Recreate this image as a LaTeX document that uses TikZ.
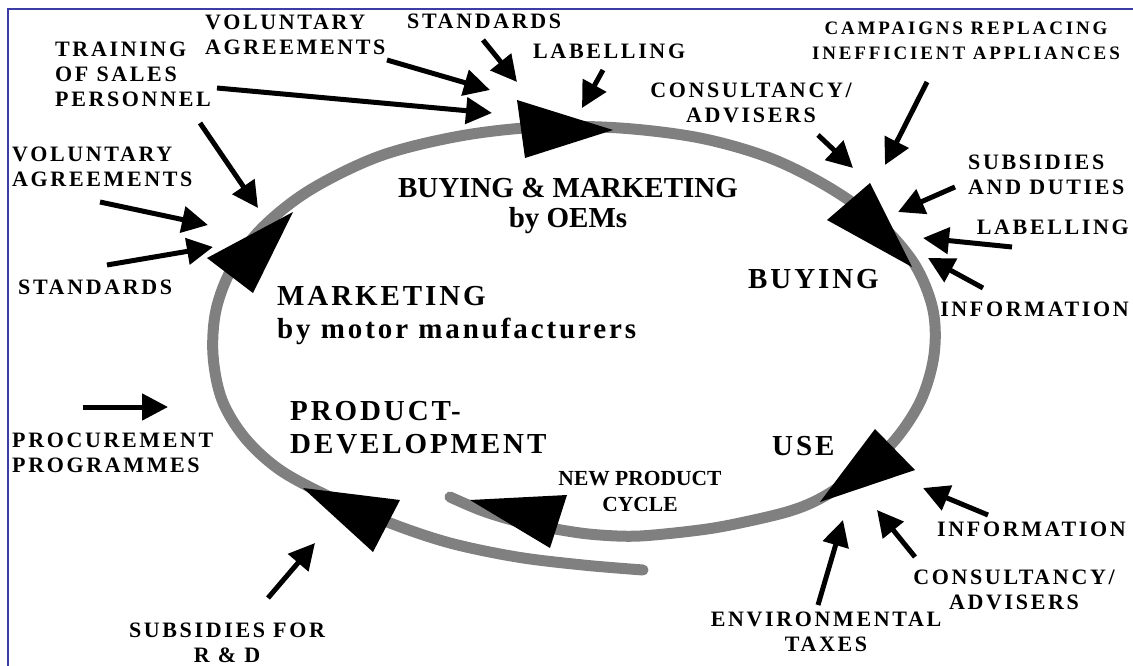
\documentclass[tikz,border=0pt]{standalone}
\usepackage{fontspec}
\setmainfont{Liberation Serif}
\newfontfamily\spacedfont[LetterSpace=12]{Liberation Serif}
\newfontfamily\campfont[LetterSpace=15]{Liberation Serif}
\newfontfamily\widefont[LetterSpace=10]{Liberation Serif}
\usepackage{tikz}
\usetikzlibrary{arrows.meta}

\definecolor{framecol}{RGB}{60,60,165}
\definecolor{cyclegrey}{RGB}{128,128,128}

\tikzset{
	small label/.style={font=\spacedfont\bfseries\fontsize{22}{25}\selectfont, inner sep=0pt},
	stage label/.style={font=\widefont\bfseries\fontsize{29}{33}\selectfont, inner sep=0pt},
	policy/.style={line width=5pt, -{Triangle[length=26pt,width=26pt]}},
	cycle line/.style={cyclegrey, line width=11pt, line cap=round, line join=round}
}

\begin{document}
\begin{tikzpicture}[x=1pt,y=-1pt]
			\useasboundingbox (0,0) rectangle (1133,666);

			\draw [framecol, line width=2pt] (8,667) -- (8,9) -- (1134,9);

			\draw [cycle line] plot [smooth, tension=0.55] coordinates {
				(643,570) (583,565) (517,557) (450,543) (390,523) (330,497) (280,470)
				(245,438) (222,400) (213,355) (216,310) (232,268) (262,228) (310,190)
				(380,156) (460,136) (540,127) (620,128) (700,138) (770,158) (830,188)
				(880,224) (915,265) (933,310) (934,355) (921,400) (895,440) (860,472)
				(823,497) (790,511) (740,523) (700,530) (640,536) (600,535) (567,531)
				(520,522) (483,511) (450,497)};

			\begin{scope}[black]
				\fill (207,258) -- (293,212) -- (253,293) -- cycle;
				\fill (517,100) -- (613,130) -- (525,158) -- cycle;
				\fill (870,183) -- (827,220) -- (912,267) -- cycle;
				\fill (875,429) -- (915,470) -- (820,502) -- cycle;
				\fill (470,500) -- (567,495) -- (550,548) -- cycle;
				\fill (303,488) -- (400,500) -- (373,552) -- cycle;
			\end{scope}

			\node [stage label, anchor=north west, align=left] (marketing) at (277,286) {MARKETING\\by motor manufacturers};
			\node [stage label, anchor=north west, align=left] (development) at (290,401) {PRODUCT-\\DEVELOPMENT};
			\node [stage label, anchor=north west] (buying) at (748,269) {BUYING};
			\node [stage label, anchor=north west] (use) at (772,436) {USE};
			\node [font=\bfseries\fontsize{29}{30}\selectfont, inner sep=0pt, anchor=north, align=center] (oems) at (568,178) {BUYING \& MARKETING\\by OEMs};
			\node [font=\bfseries\fontsize{21.5}{26}\selectfont, inner sep=0pt, anchor=north, align=center] (newcycle) at (640,471) {NEW PRODUCT\\CYCLE};

			\node [small label, anchor=north west, align=left] (volTop) at (205,15) {VOLUNTARY\\AGREEMENTS};
			\node [small label, anchor=north west, align=left] (training) at (55,42) {TRAINING\\OF SALES\\PERSONNEL};
			\node [small label, anchor=north west, align=left] (volLeft) at (12,147) {VOLUNTARY\\AGREEMENTS};
			\node [small label, anchor=north west] (stdLeft) at (18,280) {STANDARDS};
			\node [small label, anchor=north west] (stdTop) at (407,14) {STANDARDS};
			\node [small label, anchor=north west] (labTop) at (533,44) {LABELLING};
			\node [small label, anchor=north, align=center] (consTop) at (751,83) {CONSULTANCY/\\ADVISERS};
			\node [inner sep=0pt, font=\campfont\bfseries\fontsize{19}{25}\selectfont, anchor=north, align=center] (campaigns) at (966,22) {CAMPAIGNS REPLACING\\INEFFICIENT APPLIANCES};
			\node [small label, anchor=north west, align=left] (subsidies) at (968,155) {SUBSIDIES\\AND DUTIES};
			\node [small label, anchor=north east] (labRight) at (1129,220) {LABELLING};
			\node [small label, anchor=north east] (infoTop) at (1129,302) {INFORMATION};
			\node [small label, anchor=north west] (infoBot) at (937,522) {INFORMATION};
			\node [small label, anchor=north, align=center] (consBot) at (1014,570) {CONSULTANCY/\\ADVISERS};
			\node [small label, anchor=north, align=center] (envTax) at (826,612) {ENVIRONMENTAL\\TAXES};
			\node [small label, anchor=north west, align=left] (procure) at (12,433) {PROCUREMENT\\PROGRAMMES};
			\node [small label, anchor=north, align=center] (subsRD) at (227,623) {SUBSIDIES FOR\\R \& D};

			\coordinate (volTop from) at (387,60);     \coordinate (volTop to) at (490,90);
			\coordinate (trainA from) at (217,88);     \coordinate (trainA to) at (492,113);
			\coordinate (trainB from) at (200,123);    \coordinate (trainB to) at (258,208);
			\coordinate (volLeft from) at (100,202);   \coordinate (volLeft to) at (208,225);
			\coordinate (stdLeft from) at (107,265);   \coordinate (stdLeft to) at (213,247);
			\coordinate (stdTop from) at (483,40);     \coordinate (stdTop to) at (517,82);
			\coordinate (labTop from) at (603,70);     \coordinate (labTop to) at (582,108);
			\coordinate (campaigns from) at (927,82);  \coordinate (campaigns to) at (885,165);
			\coordinate (consTop from) at (818,135);   \coordinate (consTop to) at (853,168);
			\coordinate (subsidies from) at (955,187); \coordinate (subsidies to) at (898,212);
			\coordinate (labRight from) at (1012,247); \coordinate (labRight to) at (923,238);
			\coordinate (infoTop from) at (983,288);   \coordinate (infoTop to) at (928,258);
			\coordinate (infoBot from) at (988,515);   \coordinate (infoBot to) at (923,488);
			\coordinate (consBot from) at (915,557);   \coordinate (consBot to) at (877,510);
			\coordinate (envTax from) at (818,605);    \coordinate (envTax to) at (843,520);
			\coordinate (subsRD from) at (268,598);    \coordinate (subsRD to) at (315,543);
			\coordinate (procure from) at (83,407);    \coordinate (procure to) at (168,407);

			\begin{scope}
				\foreach \p in {volTop, trainA, trainB, volLeft, stdLeft, stdTop, labTop,
					campaigns, consTop, subsidies, labRight, infoTop, infoBot, consBot,
					envTax, subsRD, procure}
				{
					\draw [policy] (\p\space from) -- (\p\space to);
				}
			\end{scope}
		\end{tikzpicture}
\end{document}
